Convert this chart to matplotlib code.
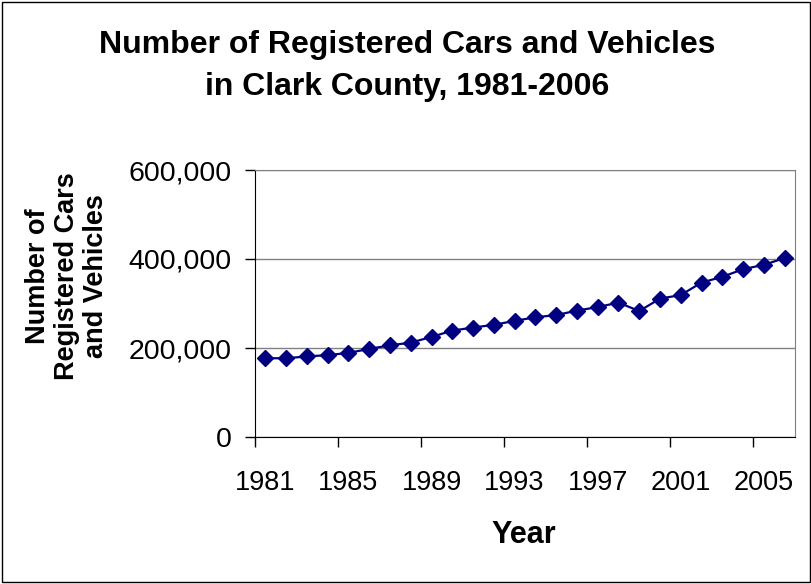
import matplotlib.pyplot as plt
from matplotlib.patches import Rectangle
from matplotlib.ticker import FuncFormatter

years = list(range(1981, 2007))
cars = [177000, 177000, 181000, 184000, 189000, 198000, 206000, 212000, 225000,
        239000, 246000, 252000, 261000, 269000, 274000, 284000, 292000, 302000,
        283000, 311000, 319000, 347000, 360000, 377000, 387000, 402000]
label_years = [1981, 1985, 1989, 1993, 1997, 2001, 2005]

plt.rcParams['font.family'] = ['Liberation Sans', 'DejaVu Sans']

fig = plt.figure(figsize=(8.12, 5.84), dpi=100)
ax = fig.add_axes([255 / 812, 1 - 437 / 584, 540 / 812, 267 / 584])

ax.plot(years, cars, color='#000080', marker='D', markersize=8.5, linewidth=1.6)

ax.set_xlim(1980.5, 2006.5)
ax.set_ylim(0, 600000)
ax.set_yticks([0, 200000, 400000, 600000])
ax.yaxis.set_major_formatter(FuncFormatter(lambda v, p: f'{int(v):,}'))
ax.grid(axis='y', color='#808080', linewidth=1)
ax.set_axisbelow(True)

# ticks between categories, labels in the middle
ax.set_xticks([y - 0.5 for y in label_years])
ax.set_xticklabels([])
ax.set_xticks(label_years, minor=True)
ax.set_xticklabels([str(y) for y in label_years], minor=True)
ax.tick_params(axis='x', which='major', length=7, width=1, color='black')
ax.tick_params(axis='x', which='minor', length=0, labelsize=19.5, pad=24)
ax.tick_params(axis='y', length=7, width=1, labelsize=20.5, pad=10)

for s in ['top', 'right']:
    ax.spines[s].set_color('#808080')
for s in ['left', 'bottom']:
    ax.spines[s].set_color('black')

fig.text(0.502, 1 - 66 / 584, 'Number of Registered Cars and Vehicles\nin Clark County, 1981-2006',
         ha='center', va='center', fontsize=23, fontweight='bold', linespacing=1.5)
fig.text(67 / 812, 1 - 276 / 584, 'Number of\nRegistered Cars\nand Vehicles', rotation=90,
         ha='center', va='center', fontsize=19.5, fontweight='bold', linespacing=1.15)
fig.text(524 / 812, 1 - 535 / 584, 'Year', ha='center', va='center', fontsize=22, fontweight='bold')

fig.patches.append(Rectangle((0.003, 0.003), 0.994, 0.994, transform=fig.transFigure,
                             fill=False, edgecolor='black', linewidth=1))

fig.savefig('out.png', dpi=100)
